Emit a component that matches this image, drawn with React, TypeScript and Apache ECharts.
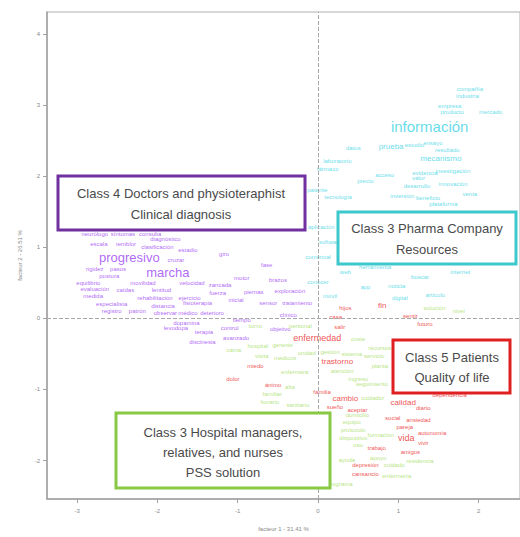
import React, { useEffect, useRef } from "react";
import * as echarts from "echarts";

type Word = [string, number, number];

const xTicks = [-3, -2, -1, 0, 1, 2];
const yTicks = [-2, -1, 0, 1, 2, 3, 4];
const xTitle = "facteur 1 - 31.41 %";
const yTitle = "facteur 2 - 26.51 %";

const purpleWords: Word[] = [
  ["edad", -2.53, 1.38], ["neurólogo", -2.78, 1.19], ["síntomas", -2.43, 1.18],
  ["consulta", -2.09, 1.19], ["escala", -2.73, 1.04], ["temblor", -2.39, 1.04],
  ["clasificación", -2.0, 1.0], ["estadio", -1.62, 0.96], ["diagnóstico", -1.9, 1.12],
  ["progresivo", -2.35, 0.86], ["cruzar", -1.77, 0.82], ["giro", -1.17, 0.9],
  ["rigidez", -2.78, 0.69], ["pasos", -2.49, 0.69], ["postura", -2.6, 0.6],
  ["marcha", -1.87, 0.65], ["fase", -0.64, 0.75], ["equilibrio", -2.86, 0.5],
  ["movilidad", -2.18, 0.5], ["velocidad", -1.57, 0.5], ["zancada", -1.22, 0.47],
  ["motor", -0.95, 0.56], ["brazos", -0.5, 0.54], ["evaluación", -2.78, 0.41],
  ["caídas", -2.4, 0.4], ["lentitud", -1.95, 0.4], ["fuerza", -1.25, 0.35],
  ["piernas", -0.8, 0.37], ["exploración", -0.35, 0.39], ["medida", -2.8, 0.31],
  ["especialista", -2.57, 0.2], ["rehabilitación", -2.03, 0.28], ["ejercicio", -1.6, 0.28],
  ["registro", -2.57, 0.1], ["patrón", -2.25, 0.1], ["distancia", -1.93, 0.18],
  ["fisioterapia", -1.5, 0.21], ["inicial", -1.02, 0.26], ["sensor", -0.62, 0.21],
  ["tratamiento", -0.26, 0.22], ["clínico", -0.37, 0.04], ["observar", -1.9, 0.07],
  ["médico", -1.62, 0.07], ["deterioro", -1.32, 0.07], ["dopamina", -1.64, -0.06],
  ["tiempo", -0.95, -0.03], ["levodopa", -1.77, -0.13], ["control", -1.1, -0.13],
  ["objetivo", -0.47, -0.15], ["discinesia", -1.44, -0.33], ["avanzado", -1.02, -0.27],
  ["terapia", -1.42, -0.19],
];

const cyanWords: Word[] = [
  ["información", 1.39, 2.69], ["compañía", 1.89, 3.22], ["industria", 1.86, 3.13],
  ["empresa", 1.64, 2.99], ["producto", 1.67, 2.9], ["mercado", 2.15, 2.9],
  ["datos", 0.44, 2.4], ["prueba", 0.91, 2.42], ["estudio", 1.2, 2.43],
  ["ensayo", 1.43, 2.46], ["resultado", 1.61, 2.37], ["laboratorio", 0.24, 2.21],
  ["fármaco", 0.12, 2.1], ["mecanismo", 1.53, 2.25], ["acceso", 0.83, 2.01],
  ["evidencia", 1.33, 2.04], ["investigación", 1.68, 2.07], ["precio", 0.59, 1.93],
  ["valor", 1.25, 1.97], ["desarrollo", 1.23, 1.86], ["innovación", 1.68, 1.89],
  ["venta", 1.89, 1.75], ["patente", -0.01, 1.81], ["tecnología", 0.25, 1.7],
  ["inversión", 1.05, 1.72], ["beneficio", 1.37, 1.69], ["plataforma", 1.56, 1.61],
  ["aplicación", 0.04, 1.28], ["software", 0.15, 1.07], ["comercial", 0.0, 0.86],
  ["web", 0.34, 0.65], ["app", 0.59, 0.44], ["móvil", 0.15, 0.31],
  ["digital", 1.02, 0.28], ["herramienta", 0.71, 0.72], ["conocer", 0.0, 0.51],
  ["buscar", 1.27, 0.58], ["internet", 1.77, 0.65], ["noticia", 0.98, 0.45],
  ["artículo", 1.46, 0.33],
];

const redWords: Word[] = [
  ["fin", 0.8, 0.18], ["hijos", 0.34, 0.14], ["casa", 0.22, 0.02],
  ["sentir", 1.15, 0.03], ["futuro", 1.33, -0.08], ["salir", 0.27, -0.12],
  ["enfermedad", -0.01, -0.28], ["miedo", -0.78, -0.67], ["trastorno", 0.24, -0.61],
  ["dolor", -1.06, -0.85], ["ánimo", -0.56, -0.94], ["familia", 0.05, -1.04],
  ["cambio", 0.34, -1.13], ["sueño", 0.21, -1.25], ["aceptar", 0.49, -1.29],
  ["calidad", 1.06, -1.18], ["diario", 1.31, -1.26], ["social", 0.93, -1.4],
  ["ansiedad", 1.25, -1.43], ["pareja", 1.08, -1.53], ["vida", 1.1, -1.68],
  ["autonomía", 1.42, -1.61], ["vivir", 1.31, -1.75], ["trabajo", 0.73, -1.82],
  ["amigos", 1.15, -1.88], ["depresión", 0.59, -2.06], ["cansancio", 0.59, -2.19],
  ["dependencia", 1.64, -1.08],
];

const greenWords: Word[] = [
  ["hospital", -0.75, -0.39], ["gerente", -0.44, -0.38], ["gestión", 0.15, -0.47],
  ["coste", 0.5, -0.29], ["recursos", 0.77, -0.42], ["sistema", 0.42, -0.5],
  ["servicio", 0.7, -0.53], ["unidad", -0.14, -0.49], ["atención", 0.3, -0.74],
  ["planta", 0.77, -0.67], ["enfermera", -0.29, -0.76], ["ingreso", 0.5, -0.85],
  ["alta", -0.35, -0.97], ["seguimiento", 0.67, -0.92], ["familiar", -0.57, -1.06],
  ["cuidador", 0.68, -1.12], ["domicilio", 0.49, -1.36], ["equipo", 0.42, -1.46],
  ["protocolo", 0.44, -1.57], ["dispositivo", 0.44, -1.68], ["uso", 0.5, -1.78],
  ["formación", 0.78, -1.64], ["apoyo", 0.75, -1.96], ["cuidado", 0.95, -2.06],
  ["residencia", 1.27, -2.0], ["ayuda", 0.36, -1.99], ["programa", 0.27, -2.33],
  ["enfermería", 0.98, -2.22], ["solución", 1.45, 0.14], ["nivel", 1.75, 0.1],
  ["turno", -0.78, -0.11], ["cama", -1.05, -0.45], ["visita", -0.7, -0.53],
  ["horario", -0.6, -1.18], ["sanitario", -0.25, -1.22], ["personal", -0.22, -0.11],
  ["médicos", -0.41, -0.56],
];

const bigWords: [string, number][] = [
  ["información", 15], ["progresivo", 13], ["marcha", 13], ["prueba", 8],
  ["mecanismo", 8], ["enfermedad", 9], ["trastorno", 8], ["cambio", 8],
  ["calidad", 8], ["vida", 9], ["fin", 8],
];

const boxes = [
  { lines: ["Class 4 Doctors and physioteraphist", "Clinical diagnosis"], x: 58, y: 176, w: 247, h: 54, color: "#7030a0", cx: 181, ly: [193, 214] },
  { lines: ["Class 3 Pharma Company", "Resources"], x: 338, y: 212, w: 178, h: 52, color: "#3cc8cc", cx: 427, ly: [228, 249] },
  { lines: ["Class 5 Patients", "Quality of life"], x: 393, y: 340, w: 117, h: 53, color: "#e02020", cx: 452, ly: [357, 377] },
  { lines: ["Class 3 Hospital managers,", "relatives, and nurses", "PSS solution"], x: 116, y: 413, w: 214, h: 75, color: "#88c844", cx: 223, ly: [432, 452, 472] },
];

const sizeOf = (w: string) => {
  const f = bigWords.find((b) => b[0] === w);
  return f ? f[1] : 6;
};

function wordSeries(words: Word[], color: string) {
  return {
    type: "scatter",
    silent: true,
    symbolSize: 1,
    itemStyle: { color: "rgba(0,0,0,0)" },
    label: {
      show: true,
      position: "inside",
      formatter: "{b}",
      color,
      fontFamily: "Liberation Sans",
      fontSize: 6,
    },
    data: words.map((w) => ({
      name: w[0],
      value: [w[1], w[2]],
      label: { fontSize: sizeOf(w[0]) },
    })),
  };
}

export default function App() {
  const ref = useRef<HTMLDivElement>(null);
  useEffect(() => {
    if (!ref.current) return;
    const chart = echarts.init(ref.current, undefined, { renderer: "svg" });
    const graphic: any[] = [];
    boxes.forEach((b) => {
      graphic.push({
        type: "rect",
        z: 100,
        shape: { x: b.x, y: b.y, width: b.w, height: b.h },
        style: { fill: "#ffffff", stroke: b.color, lineWidth: 3 },
      });
      b.lines.forEach((t, i) => {
        graphic.push({
          type: "text",
          z: 101,
          x: b.cx,
          y: b.ly[i],
          style: {
            text: t,
            fill: "#4a4a4a",
            font: '13px "Liberation Sans", sans-serif',
            textAlign: "center",
            textVerticalAlign: "middle",
          },
        });
      });
    });
    const axisCommon = {
      axisLine: { show: true, onZero: false, lineStyle: { color: "#a0a0a0", width: 1.5 } },
      axisTick: { show: true, inside: false, length: 4, lineStyle: { color: "#a0a0a0" } },
      splitLine: { show: false },
      axisLabel: { color: "#888", fontSize: 6, fontFamily: "Liberation Sans" },
      nameTextStyle: { color: "#888", fontSize: 6, fontFamily: "Liberation Sans" },
    };
    chart.setOption({
      animation: false,
      grid: { left: 47, top: 12, right: 0, bottom: 32, show: true, borderColor: "#b0b0b0", borderWidth: 1 },
      xAxis: {
        ...axisCommon,
        type: "value",
        min: -3.375,
        max: 2.515,
        name: xTitle,
        nameLocation: "middle",
        nameGap: 27,
        axisTick: { ...axisCommon.axisTick, customValues: xTicks },
        axisLabel: { ...axisCommon.axisLabel, customValues: xTicks, margin: 9 },
      },
      yAxis: {
        ...axisCommon,
        type: "value",
        min: -2.54,
        max: 4.306,
        name: yTitle,
        nameLocation: "middle",
        nameGap: 24,
        axisTick: { ...axisCommon.axisTick, customValues: yTicks },
        axisLabel: { ...axisCommon.axisLabel, customValues: yTicks, margin: 7 },
      },
      series: [
        {
          type: "scatter",
          silent: true,
          data: [],
          markLine: {
            silent: true,
            symbol: "none",
            label: { show: false },
            lineStyle: { color: "#a8a8a8", type: "dashed", width: 1 },
            data: [{ xAxis: 0 }, { yAxis: 0 }],
          },
        },
        wordSeries(purpleWords, "#9c40f4"),
        wordSeries(cyanWords, "#3cd4e4"),
        wordSeries(greenWords, "#a4dc60"),
        wordSeries(redWords, "#ec2424"),
      ],
      graphic,
    });
    return () => chart.dispose();
  }, []);
  return (
    <div
      ref={ref}
      style={{ position: "fixed", left: 0, top: 0, width: 520, height: 537, background: "#fff" }}
    />
  );
}
